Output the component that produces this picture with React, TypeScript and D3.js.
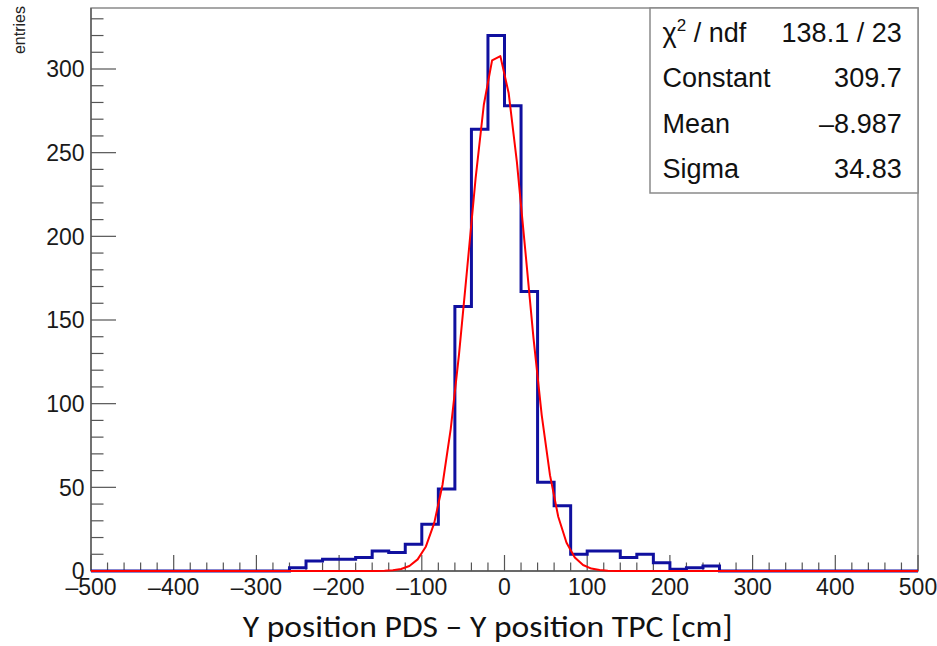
import React from 'react';
import * as d3 from 'd3';

// Histogram: 50 bins of width 20 from -500 to 500
const histRange = [-500, 500];
const binWidth = 20;
const counts = [
  0, 0, 0, 0, 0, 0, 0, 0, 0, 0, 0, 0,
  2, 6, 7, 7, 8, 12, 11, 16, 28, 49,
  158, 264, 320, 278, 167, 53, 39,
  10, 12, 12, 8, 10, 5, 1, 2, 3,
  0, 0, 0, 0, 0, 0, 0, 0, 0, 0, 0, 0,
];

// Gaussian fit parameters: constant, mean, sigma
const fitParams = [309.7, -8.987, 34.83];
const fitNpx = 100;

const xMajorTicks = [-500, -400, -300, -200, -100, 0, 100, 200, 300, 400, 500];
const xTickLabels = ['\u2013500', '\u2013400', '\u2013300', '\u2013200', '\u2013100', '0', '100', '200', '300', '400', '500'];
const yMajorTicks = [0, 50, 100, 150, 200, 250, 300];
const yTickLabels = ['0', '50', '100', '150', '200', '250', '300'];

const statsLabels = ['/ ndf', 'Constant', 'Mean', 'Sigma'];
const statsValues = ['138.1 / 23', '309.7', '\u20138.987', '34.83'];

const xTitle = 'Y position PDS \u2013 Y position TPC [cm]';
const yTitle = 'entries';

const W = 937;
const H = 646;
const frame = { left: 91, right: 918, top: 8, bottom: 571 };

export default function App() {
  const x = d3.scaleLinear().domain(histRange).range([frame.left, frame.right]);
  const y = d3.scaleLinear().domain([0, 300]).range([frame.bottom, 69]);

  // histogram step outline
  const stepPts: [number, number][] = [];
  counts.forEach((c, i) => {
    const lo = histRange[0] + i * binWidth;
    stepPts.push([lo, c]);
    stepPts.push([lo + binWidth, c]);
  });
  const stepLine = d3.line<[number, number]>().x(d => x(d[0])).y(d => y(d[1]));

  // fit function sampled ROOT-style at npx bin centers
  const [A, mu, sg] = fitParams;
  const g = (v: number) => A * Math.exp(-((v - mu) ** 2) / (2 * sg * sg));
  const dx = (histRange[1] - histRange[0]) / fitNpx;
  const fitPts: [number, number][] = [[histRange[0], g(histRange[0])]];
  for (let i = 0; i < fitNpx; i++) {
    const xv = histRange[0] + (i + 0.5) * dx;
    fitPts.push([xv, g(xv)]);
  }
  fitPts.push([histRange[1], g(histRange[1])]);
  const fitLine = d3.line<[number, number]>().x(d => x(d[0])).y(d => y(d[1]));

  const xMinor = d3.range(histRange[0], histRange[1] + 1, 20).filter(v => v % 100 !== 0);
  const yMinor = d3.range(0, 340, 10).filter(v => v % 50 !== 0 && y(v) > frame.top);

  const tickColor = '#555';
  const font = "'Liberation Sans', Arial, Helvetica, sans-serif";

  const statTop = 41.5;
  const statStep = 45.5;

  return (
    <svg width={W} height={H} style={{ position: 'absolute', left: 0, top: 0, background: '#fff' }}>
      <rect x={0} y={0} width={W} height={H} fill="#fff" />
      {/* frame */}
      <rect x={frame.left} y={frame.top} width={frame.right - frame.left} height={frame.bottom - frame.top}
        fill="none" stroke="#8a8a8a" strokeWidth={1.5} />
      {/* x ticks */}
      {xMajorTicks.map(v => (
        <line key={'xm' + v} x1={x(v)} x2={x(v)} y1={frame.bottom} y2={frame.bottom - 16} stroke={tickColor} strokeWidth={1.2} />
      ))}
      {xMinor.map(v => (
        <line key={'xn' + v} x1={x(v)} x2={x(v)} y1={frame.bottom} y2={frame.bottom - 8.5} stroke={tickColor} strokeWidth={1.2} />
      ))}
      {/* y ticks */}
      {yMajorTicks.map(v => (
        <line key={'ym' + v} x1={frame.left} x2={frame.left + 25} y1={y(v)} y2={y(v)} stroke={tickColor} strokeWidth={1.2} />
      ))}
      {yMinor.map(v => (
        <line key={'yn' + v} x1={frame.left} x2={frame.left + 12.5} y1={y(v)} y2={y(v)} stroke={tickColor} strokeWidth={1.2} />
      ))}
      {/* axis lines */}
      <line x1={frame.left} x2={frame.right} y1={frame.bottom} y2={frame.bottom} stroke="#555" strokeWidth={1.3} />
      <line x1={frame.left} x2={frame.left} y1={frame.top} y2={frame.bottom} stroke="#555" strokeWidth={1.3} />

      {/* histogram */}
      <path d={stepLine(stepPts) || ''} fill="none" stroke="#10109f" strokeWidth={3} strokeLinejoin="miter" />
      {/* fit */}
      <path d={fitLine(fitPts) || ''} fill="none" stroke="#ff0000" strokeWidth={2} strokeLinejoin="round" />

      {/* tick labels */}
      {xMajorTicks.map((v, i) => (
        <text key={'xl' + v} x={x(v)} y={595} textAnchor="middle" fontFamily={font} fontSize={23} fill="#1a1a1a">
          {xTickLabels[i]}
        </text>
      ))}
      {yMajorTicks.map((v, i) => (
        <text key={'yl' + v} x={84.5} y={y(v) + 8.3} textAnchor="end" fontFamily={font} fontSize={23} fill="#1a1a1a">
          {yTickLabels[i]}
        </text>
      ))}

      {/* axis titles */}
      <text x={242.7} y={636.5} fontFamily="Carlito, Calibri, Lato, sans-serif" fontSize={30} fill="#111"
        textLength={490} lengthAdjust="spacingAndGlyphs">{xTitle}</text>
      <text transform="translate(25,6) rotate(-90)" textAnchor="end" fontFamily={font} fontSize={16} fill="#222">{yTitle}</text>

      {/* stats box */}
      <rect x={650} y={frame.top} width={frame.right - 650} height={193 - frame.top} fill="#fff" stroke="#8a8a8a" strokeWidth={1.5} />
      {statsLabels.map((lab, i) => (
        <text key={'sl' + i} x={662.5} y={statTop + i * statStep} fontFamily={font} fontSize={27} fill="#111">
          {i === 0 ? (
            <>
              <tspan>{'\u03C7'}</tspan>
              <tspan fontSize={17} dy={-11}>2</tspan>
              <tspan dy={11}>{' ' + lab}</tspan>
            </>
          ) : lab}
        </text>
      ))}
      {statsValues.map((val, i) => (
        <text key={'sv' + i} x={901.7} y={statTop + i * statStep} textAnchor="end" fontFamily={font} fontSize={27} fill="#111">
          {val}
        </text>
      ))}
    </svg>
  );
}
